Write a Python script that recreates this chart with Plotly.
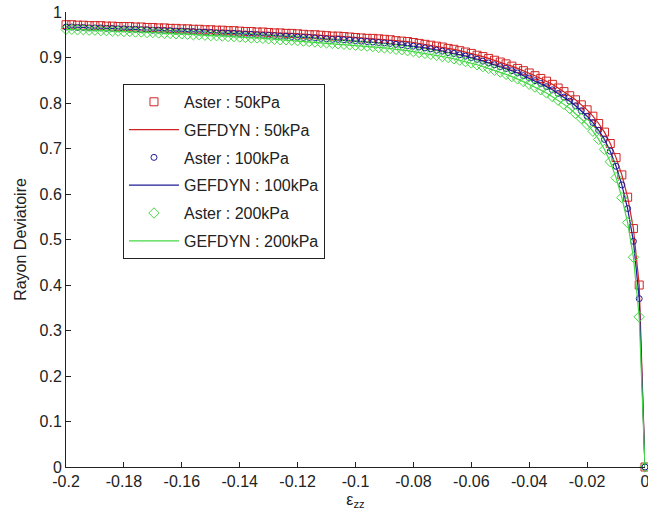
import plotly.graph_objects as go

# strain eps_zz (x values of the computed points)
strain = [
    -0.200, -0.198, -0.196, -0.194, -0.192, -0.190, -0.188, -0.186, -0.184, -0.182,
    -0.180, -0.178, -0.176, -0.174, -0.172, -0.170, -0.168, -0.166, -0.164, -0.162,
    -0.160, -0.158, -0.156, -0.154, -0.152, -0.150, -0.148, -0.146, -0.144, -0.142,
    -0.140, -0.138, -0.136, -0.134, -0.132, -0.130, -0.128, -0.126, -0.124, -0.122,
    -0.120, -0.118, -0.116, -0.114, -0.112, -0.110, -0.108, -0.106, -0.104, -0.102,
    -0.100, -0.098, -0.096, -0.094, -0.092, -0.090, -0.088, -0.086, -0.084, -0.082,
    -0.080, -0.078, -0.076, -0.074, -0.072, -0.070, -0.068, -0.066, -0.064, -0.062,
    -0.060, -0.058, -0.056, -0.054, -0.052, -0.050, -0.048, -0.046, -0.044, -0.042,
    -0.040, -0.038, -0.036, -0.034, -0.032, -0.030, -0.028, -0.026, -0.024, -0.022,
    -0.020, -0.018, -0.016, -0.014, -0.012, -0.010, -0.008, -0.006, -0.004, -0.002,
    0.000,
]

aster_50 = [
    0.972, 0.972, 0.971, 0.971, 0.970, 0.970, 0.970, 0.969, 0.969, 0.968,
    0.968, 0.968, 0.967, 0.967, 0.966, 0.966, 0.965, 0.965, 0.964, 0.964,
    0.963, 0.963, 0.962, 0.962, 0.961, 0.961, 0.960, 0.960, 0.959, 0.959,
    0.958, 0.957, 0.957, 0.956, 0.956, 0.955, 0.954, 0.954, 0.953, 0.953,
    0.952, 0.951, 0.950, 0.950, 0.949, 0.948, 0.947, 0.947, 0.946, 0.945,
    0.944, 0.943, 0.942, 0.942, 0.941, 0.940, 0.939, 0.937, 0.936, 0.935,
    0.933, 0.931, 0.929, 0.927, 0.925, 0.923, 0.920, 0.918, 0.915, 0.912,
    0.909, 0.905, 0.902, 0.898, 0.894, 0.890, 0.886, 0.881, 0.876, 0.871,
    0.866, 0.860, 0.854, 0.848, 0.841, 0.833, 0.825, 0.816, 0.807, 0.796,
    0.785, 0.771, 0.755, 0.736, 0.711, 0.680, 0.642, 0.593, 0.524, 0.400,
    0.000,
]

aster_100 = [
    0.967, 0.967, 0.966, 0.966, 0.965, 0.965, 0.965, 0.964, 0.964, 0.963,
    0.963, 0.962, 0.962, 0.961, 0.961, 0.960, 0.960, 0.959, 0.959, 0.958,
    0.958, 0.957, 0.957, 0.956, 0.956, 0.955, 0.954, 0.954, 0.953, 0.953,
    0.952, 0.951, 0.951, 0.950, 0.949, 0.949, 0.948, 0.947, 0.947, 0.946,
    0.945, 0.944, 0.944, 0.943, 0.942, 0.941, 0.940, 0.940, 0.939, 0.938,
    0.937, 0.936, 0.935, 0.934, 0.933, 0.932, 0.931, 0.929, 0.928, 0.926,
    0.925, 0.923, 0.921, 0.919, 0.916, 0.914, 0.911, 0.909, 0.906, 0.903,
    0.900, 0.896, 0.892, 0.888, 0.884, 0.880, 0.876, 0.871, 0.866, 0.860,
    0.855, 0.849, 0.843, 0.836, 0.829, 0.821, 0.813, 0.804, 0.794, 0.783,
    0.771, 0.757, 0.740, 0.720, 0.694, 0.661, 0.620, 0.568, 0.496, 0.370,
    0.000,
]

aster_200 = [
    0.962, 0.962, 0.961, 0.961, 0.960, 0.960, 0.959, 0.959, 0.958, 0.958,
    0.957, 0.957, 0.956, 0.956, 0.955, 0.955, 0.954, 0.953, 0.953, 0.952,
    0.952, 0.951, 0.950, 0.950, 0.949, 0.948, 0.948, 0.947, 0.946, 0.946,
    0.945, 0.944, 0.943, 0.943, 0.942, 0.941, 0.940, 0.939, 0.939, 0.938,
    0.937, 0.936, 0.935, 0.934, 0.933, 0.932, 0.931, 0.930, 0.929, 0.928,
    0.927, 0.926, 0.925, 0.924, 0.922, 0.921, 0.920, 0.918, 0.917, 0.915,
    0.913, 0.911, 0.909, 0.907, 0.905, 0.902, 0.900, 0.897, 0.894, 0.891,
    0.888, 0.884, 0.880, 0.876, 0.872, 0.868, 0.863, 0.858, 0.853, 0.847,
    0.841, 0.835, 0.829, 0.822, 0.814, 0.806, 0.797, 0.788, 0.777, 0.766,
    0.753, 0.738, 0.720, 0.698, 0.671, 0.636, 0.592, 0.537, 0.461, 0.330,
    0.000,
]

# GEFDYN curves follow the Aster points (indistinguishable in the picture)
gefdyn_50 = aster_50
gefdyn_100 = aster_100
gefdyn_200 = aster_200

x_tick_vals = [-0.2, -0.18, -0.16, -0.14, -0.12, -0.1, -0.08, -0.06, -0.04, -0.02, 0]
x_tick_text = ["-0.2", "-0.18", "-0.16", "-0.14", "-0.12", "-0.1", "-0.08", "-0.06", "-0.04", "-0.02", "0"]
y_tick_vals = [0, 0.1, 0.2, 0.3, 0.4, 0.5, 0.6, 0.7, 0.8, 0.9, 1]
y_tick_text = ["0", "0.1", "0.2", "0.3", "0.4", "0.5", "0.6", "0.7", "0.8", "0.9", "1"]

RED = "rgb(210,35,35)"
BLUE = "rgb(30,30,150)"
GREEN = "rgb(70,215,70)"

fig = go.Figure()

def marker_trace(y, name, symbol, color, size, grp):
    return go.Scatter(
        x=strain, y=y, mode="markers", name=name, legendgroup=grp,
        marker=dict(symbol=symbol, size=size, color=color,
                    line=dict(color=color, width=1)),
        cliponaxis=False,
    )

def line_trace(y, name, color, grp):
    return go.Scatter(
        x=strain, y=y, mode="lines", name=name, legendgroup=grp,
        line=dict(color=color, width=1.2),
        cliponaxis=False,
    )

fig.add_trace(marker_trace(aster_50, "Aster : 50kPa", "square-open", RED, 8, "a"))
fig.add_trace(line_trace(gefdyn_50, "GEFDYN : 50kPa", RED, "b"))
fig.add_trace(marker_trace(aster_100, "Aster : 100kPa", "circle-open", BLUE, 6, "c"))
fig.add_trace(line_trace(gefdyn_100, "GEFDYN : 100kPa", BLUE, "d"))
fig.add_trace(marker_trace(aster_200, "Aster : 200kPa", "diamond-open", GREEN, 8, "e"))
fig.add_trace(line_trace(gefdyn_200, "GEFDYN : 200kPa", GREEN, "f"))

FONT = "Arial, Liberation Sans, sans-serif"
FS = 16

fig.update_layout(
    width=648, height=527,
    margin=dict(l=66, r=3, t=12, b=60, autoexpand=False),
    paper_bgcolor="white", plot_bgcolor="white",
    font=dict(family=FONT, size=FS, color="#222"),
    showlegend=True,
    legend=dict(
        x=0.0984, y=0.842, xanchor="left", yanchor="top",
        bgcolor="white", bordercolor="#222", borderwidth=1,
        font=dict(family=FONT, size=FS, color="#222"),
        tracegroupgap=4, traceorder="grouped", itemwidth=50,
    ),
    xaxis=dict(
        range=[-0.2, 0], tickvals=x_tick_vals, ticktext=x_tick_text,
        ticks="inside", ticklen=5, tickcolor="#222",
        showline=True, linecolor="#222", linewidth=1,
        showgrid=False, zeroline=False, mirror=False,
        ticklabeloverflow="allow",
        tickfont=dict(family=FONT, size=FS, color="#222"),
        title=dict(text="ε<sub>zz</sub>", font=dict(family=FONT, size=FS, color="#222"), standoff=4),
        automargin=False,
    ),
    yaxis=dict(
        range=[0, 1], tickvals=y_tick_vals, ticktext=y_tick_text,
        ticks="inside", ticklen=5, tickcolor="#222",
        showline=True, linecolor="#222", linewidth=1,
        showgrid=False, zeroline=False, mirror=False,
        ticklabeloverflow="allow",
        tickfont=dict(family=FONT, size=FS, color="#222"),
        title=dict(text="Rayon Deviatoire", font=dict(family=FONT, size=FS, color="#222"), standoff=8),
        automargin=False,
    ),
)

# remove the browser's default 8 px page margin so the 648x527 figure fills the window
fig.write_html(
    "out.html",
    config={"displayModeBar": False},
    post_script="document.body.style.margin='0';document.body.style.overflow='hidden';",
)
